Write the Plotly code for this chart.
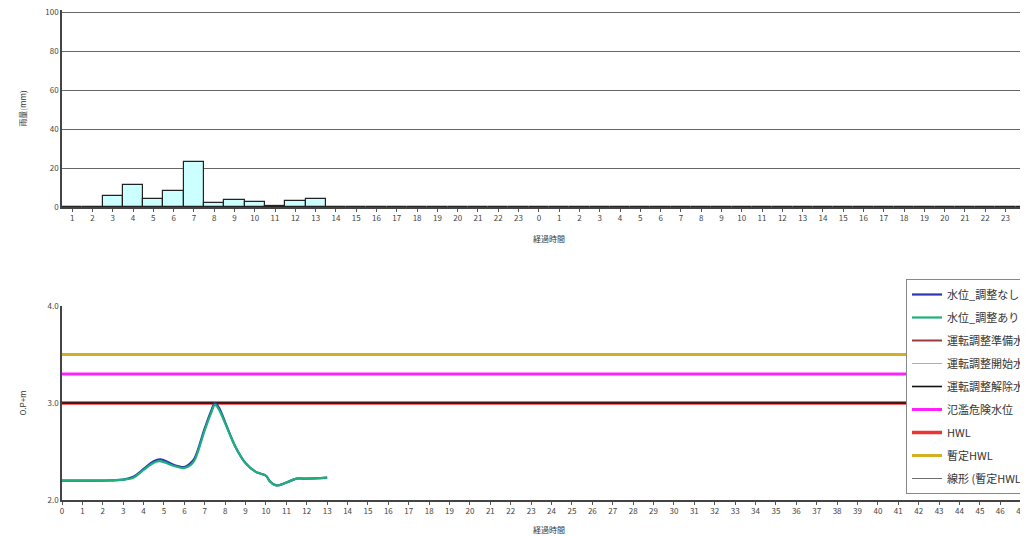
import plotly.graph_objects as go

# ---------------- data ----------------
hour_labels = ["1","2","3","4","5","6","7","8","9","10","11","12","13","14","15","16",
               "17","18","19","20","21","22","23","0","1","2","3","4","5","6","7","8",
               "9","10","11","12","13","14","15","16","17","18","19","20","21","22","23","0"]
rain_mm = [0, 0, 5.5, 11.5, 4.3, 8.4, 22.9, 2.2, 3.4, 2.6, 0.3, 3.2, 4.3, 0, 0, 0,
           0, 0, 0, 0, 0, 0, 0, 0, 0, 0, 0, 0, 0, 0, 0, 0,
           0, 0, 0, 0, 0, 0, 0, 0, 0, 0, 0, 0, 0, 0, 0, 0]
rain_ticks = [0, 20, 40, 60, 80, 100]

elapsed = [0, 1, 2, 3, 3.5, 4, 4.5, 4.8, 5, 5.5, 6, 6.3, 6.5, 7, 7.3, 7.5, 7.7, 8,
           8.5, 9, 9.5, 10, 10.2, 10.5, 11, 11.5, 12, 13]
level_no_adj = [2.20, 2.20, 2.20, 2.21, 2.24, 2.32, 2.40, 2.42, 2.41, 2.36, 2.34, 2.38, 2.43,
                2.74, 2.91, 3.00, 2.95, 2.80, 2.55, 2.38, 2.29, 2.25, 2.19, 2.15, 2.18, 2.22,
                2.22, 2.23]
level_adj = [2.20, 2.20, 2.20, 2.21, 2.23, 2.31, 2.385, 2.40, 2.39, 2.35, 2.33, 2.36, 2.41,
             2.72, 2.89, 2.98, 2.93, 2.79, 2.55, 2.38, 2.29, 2.25, 2.19, 2.15, 2.18, 2.22,
             2.22, 2.23]
level_ticks = [2.0, 3.0, 4.0]

span_hours = [0, 48]
lvl_prep = 3.0        # 運転調整準備水位
lvl_start = 3.0       # 運転調整開始水位
lvl_release = 3.0     # 運転調整解除水位
lvl_danger = 3.3      # 氾濫危険水位
lvl_hwl = 3.0         # HWL
lvl_temp_hwl = 3.5    # 暫定HWL

FONT = "Noto Sans CJK JP"

fig = go.Figure()

# top: rainfall bars
fig.add_trace(go.Bar(
    x=list(range(len(rain_mm))), y=rain_mm,
    marker=dict(color="#ccffff", line=dict(color="#222222", width=1.2)),
    showlegend=False, xaxis="x", yaxis="y", hoverinfo="skip"))

for name, val, color, width, rank in [
        ("運転調整準備水位", lvl_prep, "#9b3b3b", 2, 3),
        ("運転調整開始水位", lvl_start, "#b0b0b0", 1, 4),
        ("線形 (暫定HWL)", lvl_temp_hwl, "#707070", 1, 9),
        ("暫定HWL", lvl_temp_hwl, "#d2b020", 3, 8),
        ("氾濫危険水位", lvl_danger, "#ff22ff", 3, 6),
        ("HWL", lvl_hwl, "#ee3333", 3.5, 7),
        ("運転調整解除水位", lvl_release, "#111111", 1.6, 5)]:
    fig.add_trace(go.Scatter(
        x=span_hours, y=[val] * len(span_hours), mode="lines", name=name,
        line=dict(color=color, width=width), xaxis="x2", yaxis="y2",
        legendrank=rank, legendgroup=name))

fig.add_trace(go.Scatter(x=elapsed, y=level_no_adj, mode="lines", name="水位_調整なし",
                         line=dict(color="#2b35b5", width=2.2, shape="spline"),
                         xaxis="x2", yaxis="y2", legendrank=1, legendgroup="a"))
fig.add_trace(go.Scatter(x=elapsed, y=level_adj, mode="lines", name="水位_調整あり",
                         line=dict(color="#1fb07a", width=2.2, shape="spline"),
                         xaxis="x2", yaxis="y2", legendrank=2, legendgroup="b"))

axis_font = dict(family=FONT, size=8, color="#444444")
W, H = 1028, 536
OFF = 8  # page body margin offset
left = (62 - OFF) / W

def py(screen_y):
    return 1 - (screen_y - OFF) / H

fig.update_layout(
    width=W, height=H,
    margin=dict(l=0, r=0, t=0, b=0, autoexpand=False),
    paper_bgcolor="white", plot_bgcolor="white",
    font=dict(family=FONT),
    bargap=0,
    xaxis=dict(domain=[left, 1], anchor="y", range=[-0.5, 47.5],
               tickmode="array", tickvals=list(range(len(hour_labels))), ticktext=hour_labels,
               tickfont=axis_font, ticks="outside", ticklen=3, tickcolor="#555",
               ticklabeloverflow="allow",
               showline=True, linecolor="#444", linewidth=1.5, showgrid=False,
               title=dict(text="経過時間", font=dict(family=FONT, size=8, color="#333"), standoff=14)),
    yaxis=dict(domain=[py(207), py(10.05)], anchor="x", range=[0, 101],
               tickmode="array", tickvals=rain_ticks, ticklabeloverflow="allow",
               tickfont=axis_font, ticks="", showline=True, linecolor="#444", linewidth=1.5,
               showgrid=True, gridcolor="#666666", gridwidth=1, zeroline=False,
               title=dict(text="雨量(mm)", font=dict(family=FONT, size=8, color="#333"), standoff=18)),
    xaxis2=dict(domain=[left, 1], anchor="y2", range=[0, 47.75], dtick=1, tick0=0,
                tickfont=axis_font, ticks="outside", ticklen=3, tickcolor="#555",
                ticklabeloverflow="allow",
                showline=True, linecolor="#444", linewidth=1.5, showgrid=False, zeroline=False,
                title=dict(text="経過時間", font=dict(family=FONT, size=8, color="#333"), standoff=12)),
    yaxis2=dict(domain=[py(500), py(306)], anchor="x2", range=[2, 4],
                tickmode="array", tickvals=level_ticks, ticklabeloverflow="allow",
                tickformat=".1f", tickfont=axis_font, ticks="", showline=True,
                linecolor="#444", linewidth=1.5, showgrid=True, gridcolor="#666666",
                zeroline=False,
                title=dict(text="O.P+m", font=dict(family=FONT, size=8, color="#333"), standoff=20)),
    legend=dict(x=(906 - OFF) / W, y=py(279), xanchor="left", yanchor="top",
                bgcolor="white", bordercolor="#888888", borderwidth=1,
                font=dict(family=FONT, size=11, color="#333"), tracegroupgap=4,
                itemwidth=30, traceorder="grouped"),
)

fig.write_html("out.html")
